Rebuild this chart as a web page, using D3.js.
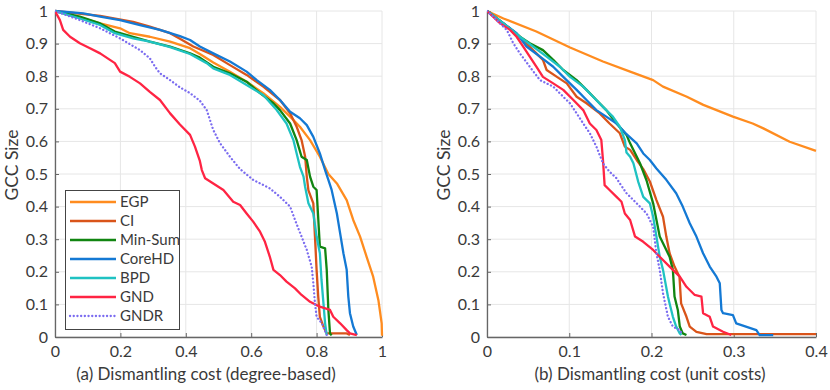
<!DOCTYPE html>
<html>
<head>
<meta charset="utf-8">
<script src="https://cdn.jsdelivr.net/npm/d3@7"></script>
<style>
  body { margin: 0; background: #fff; }
  text { font-family: Lato, "Open Sans", sans-serif; fill: #3a3a3a; }
</style>
</head>
<body>
<div id="chart"></div>
<script>
// series names, legend order
var names = ["EGP", "CI", "Min-Sum", "CoreHD", "BPD", "GND", "GNDR"];
var colors = ["#ff8c1f", "#d9541a", "#118511", "#1479d4", "#1fc2c2", "#ff2443", "#7b6cf0"];

var ticksA = [0, 0.2, 0.4, 0.6, 0.8, 1];
var ticksB = [0, 0.1, 0.2, 0.3, 0.4];
var ticksY = [0, 0.1, 0.2, 0.3, 0.4, 0.5, 0.6, 0.7, 0.8, 0.9, 1];

// (a) degree-based cost: [cost, GCC size]
var egpA = [[0,1],[0.076,0.98],[0.138,0.962],[0.199,0.947],[0.229,0.932],[0.29,0.921],[0.352,0.906],[0.413,0.886],[0.443,0.868],[0.484,0.842],[0.535,0.814],[0.586,0.783],[0.637,0.748],[0.688,0.706],[0.719,0.676],[0.749,0.645],[0.78,0.604],[0.81,0.553],[0.836,0.5],[0.862,0.471],[0.892,0.42],[0.912,0.359],[0.933,0.308],[0.953,0.246],[0.973,0.185],[0.989,0.113],[0.999,0.042],[1.0,0.004]];
var ciA = [[0,1],[0.138,0.985],[0.239,0.967],[0.29,0.952],[0.352,0.932],[0.382,0.915],[0.423,0.891],[0.484,0.865],[0.535,0.834],[0.586,0.804],[0.637,0.768],[0.688,0.727],[0.719,0.686],[0.739,0.645],[0.754,0.604],[0.765,0.553],[0.77,0.492],[0.775,0.45],[0.79,0.41],[0.795,0.308],[0.8,0.206],[0.805,0.124],[0.81,0.062],[0.821,0.032],[0.831,0.011],[0.892,0.011],[0.902,0.006]];
var minSumA = [[0,1],[0.076,0.983],[0.138,0.962],[0.183,0.937],[0.239,0.921],[0.29,0.906],[0.352,0.891],[0.413,0.87],[0.443,0.857],[0.484,0.829],[0.535,0.809],[0.586,0.783],[0.627,0.748],[0.668,0.717],[0.688,0.696],[0.719,0.655],[0.739,0.604],[0.754,0.553],[0.77,0.543],[0.78,0.492],[0.79,0.461],[0.8,0.451],[0.81,0.277],[0.826,0.272],[0.831,0.206],[0.836,0.083],[0.841,0.011],[0.846,0.005]];
var coreHdA = [[0,1],[0.087,0.993],[0.138,0.983],[0.199,0.972],[0.26,0.957],[0.321,0.942],[0.382,0.923],[0.413,0.911],[0.443,0.891],[0.484,0.87],[0.535,0.845],[0.586,0.814],[0.617,0.788],[0.657,0.758],[0.688,0.727],[0.719,0.691],[0.749,0.671],[0.77,0.65],[0.79,0.614],[0.81,0.563],[0.826,0.512],[0.836,0.482],[0.846,0.451],[0.862,0.379],[0.872,0.318],[0.882,0.257],[0.892,0.206],[0.897,0.124],[0.902,0.073],[0.912,0.032],[0.923,0.006]];
var bpdA = [[0,1],[0.076,0.977],[0.138,0.957],[0.183,0.932],[0.239,0.916],[0.29,0.906],[0.352,0.889],[0.413,0.868],[0.464,0.84],[0.484,0.824],[0.535,0.804],[0.586,0.773],[0.637,0.742],[0.678,0.696],[0.708,0.655],[0.729,0.604],[0.739,0.563],[0.749,0.522],[0.76,0.492],[0.765,0.46],[0.775,0.41],[0.79,0.379],[0.8,0.308],[0.81,0.257],[0.815,0.175],[0.821,0.103],[0.826,0.042],[0.831,0.006]];
var gndA = [[0,1],[0.015,0.972],[0.025,0.942],[0.046,0.921],[0.076,0.901],[0.107,0.886],[0.138,0.87],[0.168,0.85],[0.183,0.84],[0.199,0.814],[0.229,0.798],[0.26,0.778],[0.29,0.752],[0.321,0.727],[0.352,0.686],[0.382,0.652],[0.413,0.62],[0.428,0.584],[0.443,0.54],[0.449,0.512],[0.459,0.487],[0.484,0.471],[0.515,0.451],[0.545,0.415],[0.566,0.405],[0.586,0.379],[0.606,0.354],[0.627,0.323],[0.642,0.292],[0.657,0.246],[0.668,0.206],[0.688,0.19],[0.708,0.17],[0.734,0.149],[0.754,0.129],[0.78,0.108],[0.81,0.093],[0.841,0.083],[0.851,0.062],[0.872,0.042],[0.892,0.021],[0.902,0.011],[0.923,0.006]];
var gndrA = [[0,1],[0.076,0.972],[0.138,0.947],[0.199,0.916],[0.26,0.88],[0.29,0.855],[0.306,0.829],[0.321,0.809],[0.352,0.788],[0.382,0.766],[0.413,0.748],[0.443,0.725],[0.464,0.696],[0.484,0.635],[0.505,0.594],[0.535,0.553],[0.566,0.515],[0.606,0.482],[0.657,0.456],[0.688,0.43],[0.719,0.4],[0.734,0.359],[0.754,0.308],[0.77,0.267],[0.785,0.216],[0.79,0.165],[0.795,0.103],[0.8,0.062],[0.816,0.042],[0.831,0.006]];

// (b) unit costs
var egpB = [[0,1],[0.02,0.977],[0.06,0.937],[0.101,0.888],[0.141,0.845],[0.174,0.814],[0.202,0.788],[0.214,0.768],[0.243,0.737],[0.263,0.712],[0.299,0.676],[0.323,0.655],[0.336,0.64],[0.368,0.599],[0.4,0.571]];
var ciB = [[0,1],[0.02,0.962],[0.04,0.921],[0.056,0.88],[0.068,0.85],[0.0725,0.819],[0.085,0.798],[0.097,0.778],[0.109,0.737],[0.121,0.717],[0.137,0.686],[0.149,0.655],[0.1615,0.625],[0.1676,0.584],[0.174,0.574],[0.182,0.543],[0.19,0.515],[0.198,0.477],[0.206,0.42],[0.214,0.369],[0.218,0.308],[0.222,0.257],[0.228,0.216],[0.234,0.185],[0.236,0.103],[0.2425,0.062],[0.2465,0.032],[0.2546,0.016],[0.267,0.009],[0.4,0.009]];
var minSumB = [[0,1],[0.02,0.962],[0.04,0.921],[0.052,0.901],[0.068,0.88],[0.0805,0.85],[0.0927,0.819],[0.109,0.788],[0.121,0.758],[0.133,0.727],[0.145,0.696],[0.1575,0.655],[0.1696,0.62],[0.174,0.594],[0.186,0.533],[0.194,0.48],[0.202,0.41],[0.21,0.308],[0.218,0.267],[0.222,0.246],[0.226,0.206],[0.228,0.124],[0.232,0.083],[0.2344,0.032],[0.238,0.011],[0.2425,0.006]];
var coreHdB = [[0,1],[0.02,0.962],[0.036,0.932],[0.048,0.891],[0.0644,0.86],[0.0805,0.829],[0.0927,0.798],[0.109,0.758],[0.121,0.727],[0.133,0.696],[0.145,0.676],[0.1575,0.655],[0.1696,0.622],[0.182,0.594],[0.19,0.563],[0.198,0.543],[0.206,0.517],[0.218,0.482],[0.23,0.441],[0.238,0.4],[0.2465,0.349],[0.2546,0.308],[0.2627,0.257],[0.2708,0.216],[0.279,0.185],[0.283,0.165],[0.285,0.083],[0.287,0.073],[0.299,0.067],[0.303,0.042],[0.3275,0.021],[0.3315,0.006],[0.348,0.006]];
var bpdB = [[0,1],[0.02,0.962],[0.04,0.921],[0.056,0.891],[0.0725,0.86],[0.0886,0.829],[0.101,0.798],[0.117,0.768],[0.129,0.737],[0.141,0.706],[0.153,0.676],[0.1615,0.645],[0.1676,0.604],[0.1696,0.566],[0.174,0.553],[0.178,0.533],[0.184,0.475],[0.19,0.43],[0.198,0.41],[0.202,0.369],[0.206,0.308],[0.21,0.246],[0.214,0.206],[0.22,0.124],[0.222,0.103],[0.226,0.062],[0.23,0.032],[0.2344,0.011],[0.2364,0.006]];
var gndB = [[0,1],[0.016,0.962],[0.028,0.942],[0.036,0.921],[0.044,0.891],[0.052,0.86],[0.06,0.829],[0.068,0.798],[0.0805,0.778],[0.0927,0.758],[0.105,0.727],[0.117,0.696],[0.125,0.655],[0.133,0.635],[0.139,0.604],[0.141,0.543],[0.143,0.466],[0.149,0.451],[0.1575,0.43],[0.1635,0.415],[0.1676,0.379],[0.174,0.359],[0.18,0.308],[0.19,0.292],[0.202,0.267],[0.21,0.246],[0.222,0.216],[0.2344,0.185],[0.2425,0.154],[0.2526,0.129],[0.2607,0.124],[0.2627,0.073],[0.2708,0.062],[0.2748,0.032],[0.287,0.016],[0.297,0.006]];
var gndrB = [[0,1],[0.0118,0.972],[0.024,0.942],[0.032,0.901],[0.04,0.87],[0.052,0.829],[0.0644,0.788],[0.0805,0.768],[0.0927,0.737],[0.1008,0.717],[0.109,0.686],[0.117,0.655],[0.125,0.625],[0.133,0.584],[0.141,0.533],[0.149,0.507],[0.1575,0.487],[0.1615,0.471],[0.1696,0.441],[0.182,0.41],[0.194,0.379],[0.202,0.338],[0.206,0.257],[0.21,0.206],[0.214,0.134],[0.22,0.062],[0.226,0.032],[0.2344,0.021],[0.238,0.006]];

var panels = [
  { left: 55, right: 382, xmax: 1, ticks: ticksA, titleX: 206,
    title: "(a) Dismantling cost (degree-based)", legend: true,
    series: [egpA, ciA, minSumA, coreHdA, bpdA, gndA, gndrA] },
  { left: 487, right: 816, xmax: 0.4, ticks: ticksB, titleX: 650,
    title: "(b) Dismantling cost (unit costs)", legend: false,
    series: [egpB, ciB, minSumB, coreHdB, bpdB, gndB, gndrB] }
];

var plotTop = 11, plotBottom = 337;

var svg = d3.select("#chart").append("svg")
    .attr("width", 830)
    .attr("height", 390);

var y = d3.scaleLinear().domain([0, 1]).range([plotBottom, plotTop]);

panels.forEach(function(p, pi) {
  var x = d3.scaleLinear().domain([0, p.xmax]).range([p.left, p.right]);
  var g = svg.append("g");

  // grid
  g.append("g").selectAll("line").data(p.ticks).enter().append("line")
      .attr("x1", function(d) { return x(d); }).attr("x2", function(d) { return x(d); })
      .attr("y1", plotTop).attr("y2", plotBottom)
      .attr("stroke", "#e6e6e6").attr("stroke-width", 1);
  g.append("g").selectAll("line").data(ticksY).enter().append("line")
      .attr("y1", function(d) { return y(d); }).attr("y2", function(d) { return y(d); })
      .attr("x1", p.left).attr("x2", p.right)
      .attr("stroke", "#e6e6e6").attr("stroke-width", 1);

  // axes
  var xAxis = d3.axisBottom(x).tickValues(p.ticks).tickFormat(d3.format("~g"))
      .tickSizeInner(-4).tickSizeOuter(0).tickPadding(9);
  var yAxis = d3.axisLeft(y).tickValues(ticksY).tickFormat(d3.format("~g"))
      .tickSizeInner(-4).tickSizeOuter(0).tickPadding(7);

  var ax = g.append("g").attr("transform", "translate(0," + plotBottom + ")").call(xAxis);
  var ay = g.append("g").attr("transform", "translate(" + p.left + ",0)").call(yAxis);
  [ax, ay].forEach(function(a) {
    a.select(".domain").attr("stroke", "#666").attr("stroke-width", 1.3);
    a.selectAll(".tick line").attr("stroke", "#666");
    a.selectAll(".tick text").attr("font-size", 16).attr("fill", "#3a3a3a")
      .style("font-family", "Lato, sans-serif");
  });

  // lines
  var clipId = "clip" + pi;
  svg.append("clipPath").attr("id", clipId).append("rect")
      .attr("x", p.left).attr("y", plotTop - 2)
      .attr("width", p.right - p.left + 2).attr("height", plotBottom - plotTop + 2);

  var line = d3.line()
      .x(function(d) { return x(d[0]); })
      .y(function(d) { return y(d[1]); });

  g.append("g").attr("clip-path", "url(#" + clipId + ")")
    .selectAll("path").data(p.series).enter().append("path")
      .attr("d", line)
      .attr("fill", "none")
      .attr("stroke", function(d, i) { return colors[i]; })
      .attr("stroke-width", 2.3)
      .attr("stroke-linejoin", "round")
      .attr("stroke-linecap", function(d, i) { return i == 6 ? "round" : "butt"; })
      .attr("stroke-dasharray", function(d, i) { return i == 6 ? "0.1,3.6" : null; });

  // labels
  g.append("text")
      .attr("transform", "translate(" + (p.left - 37) + ",165) rotate(-90)")
      .attr("text-anchor", "middle")
      .attr("font-size", 17.5)
      .text("GCC Size");

  g.append("text")
      .attr("x", p.titleX)
      .attr("y", 380)
      .attr("text-anchor", "middle")
      .attr("font-size", 17)
      .text(p.title);

  if (p.legend) {
    var lg = g.append("g");
    lg.append("rect")
        .attr("x", 65.5).attr("y", 190.5)
        .attr("width", 114).attr("height", 139)
        .attr("fill", "#fff").attr("stroke", "#444").attr("stroke-width", 1);
    var item = lg.selectAll("g.item").data(names).enter().append("g")
        .attr("class", "item")
        .attr("transform", function(d, i) { return "translate(0," + (202 + i * 19) + ")"; });
    item.append("line")
        .attr("x1", 70).attr("x2", 116)
        .attr("stroke", function(d, i) { return colors[i]; })
        .attr("stroke-width", 2.3)
        .attr("stroke-linecap", function(d, i) { return i == 6 ? "round" : "butt"; })
        .attr("stroke-dasharray", function(d, i) { return i == 6 ? "0.1,3.6" : null; });
    item.append("text")
        .attr("x", 120).attr("dy", "0.35em")
        .attr("font-size", 15)
        .text(function(d) { return d; });
  }
});
</script>
</body>
</html>
